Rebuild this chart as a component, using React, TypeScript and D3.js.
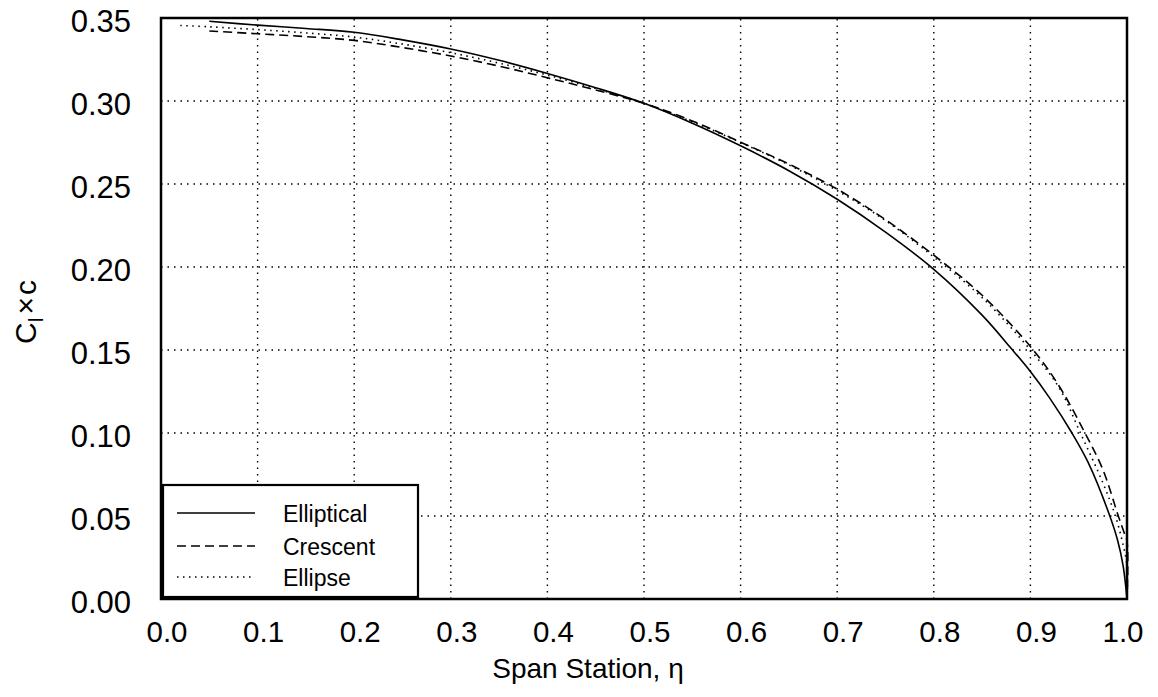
import React from "react";
import * as d3 from "d3";

const xTicks = [0, 0.1, 0.2, 0.3, 0.4, 0.5, 0.6, 0.7, 0.8, 0.9, 1.0];
const yTicks = [0, 0.05, 0.1, 0.15, 0.2, 0.25, 0.3, 0.35];

const ellipticalEta = [0.05, 0.1, 0.15, 0.2, 0.25, 0.3, 0.35, 0.4, 0.45, 0.5, 0.55, 0.6, 0.65, 0.7, 0.75, 0.8, 0.85, 0.88, 0.9, 0.92, 0.943, 0.96, 0.981, 0.99, 0.996, 1.0];
const ellipticalVal = [0.348, 0.3457, 0.3437, 0.3414, 0.3368, 0.3313, 0.3245, 0.3166, 0.308, 0.2986, 0.2866, 0.273, 0.258, 0.2408, 0.221, 0.1986, 0.171, 0.151, 0.137, 0.121, 0.1, 0.082, 0.052, 0.036, 0.02, 0.0];

const crescentEta = [0.05, 0.1, 0.15, 0.2, 0.25, 0.3, 0.35, 0.4, 0.45, 0.5, 0.55, 0.6, 0.65, 0.7, 0.75, 0.8, 0.85, 0.903, 0.93, 0.9565, 0.975, 0.991, 0.997, 1.0, 1.0];
const crescentVal = [0.3422, 0.3405, 0.3388, 0.3365, 0.3322, 0.3271, 0.321, 0.314, 0.3066, 0.2986, 0.288, 0.2752, 0.262, 0.2469, 0.2285, 0.2071, 0.183, 0.15, 0.128, 0.1, 0.078, 0.05, 0.04, 0.035, 0.0];

const ellipseEta = [0.02, 0.05, 0.1, 0.15, 0.2, 0.25, 0.3, 0.35, 0.4, 0.45, 0.5, 0.55, 0.6, 0.65, 0.7, 0.75, 0.8, 0.851, 0.9, 0.93, 0.951, 0.975, 0.988, 0.995, 1.0, 1.0];
const ellipseVal = [0.3455, 0.3447, 0.343, 0.341, 0.3385, 0.3343, 0.3291, 0.3228, 0.3156, 0.3075, 0.2986, 0.2875, 0.275, 0.2615, 0.246, 0.228, 0.206, 0.181, 0.15, 0.127, 0.101, 0.07, 0.05, 0.035, 0.02, 0.0];

const seriesNames = ["Elliptical", "Crescent", "Ellipse"];
const seriesDash = ["", "9,5", "1.5,4.5"];

const W = 1158;
const H = 697;
const left = 161;
const right = 1127;
const top = 18;
const bottom = 599;

export default function App() {
  const x = d3.scaleLinear().domain([0, 1]).range([left, right]);
  const y = d3.scaleLinear().domain([0, 0.35]).range([bottom, top]);
  const line = d3
    .line<[number, number]>()
    .x((d) => x(d[0]))
    .y((d) => y(d[1]))
    .curve(d3.curveCatmullRom.alpha(0.5));

  const series = [
    d3.zip(ellipticalEta, ellipticalVal) as [number, number][],
    d3.zip(crescentEta, crescentVal) as [number, number][],
    d3.zip(ellipseEta, ellipseVal) as [number, number][],
  ];

  const font = "'Liberation Sans', Arial, Helvetica, sans-serif";
  const lg = { x0: 163, y0: 485, x1: 418, y1: 597 };
  const rowY = [513, 546, 577];

  return (
    <svg
      width={W}
      height={H}
      style={{ position: "absolute", left: 0, top: 0, background: "#fff" }}
      fontFamily={font}
    >
      {/* grid */}
      <g stroke="#000" strokeWidth={1.4} strokeDasharray="1.5,5" fill="none">
        {xTicks.slice(1, -1).map((t) => (
          <line key={"gx" + t} x1={x(t)} x2={x(t)} y1={y(0)} y2={y(0.35)} />
        ))}
        {yTicks.slice(1, -1).map((t) => (
          <line key={"gy" + t} x1={x(0)} x2={x(1)} y1={y(t)} y2={y(t)} />
        ))}
      </g>

      {/* curves */}
      {series.map((s, i) => (
        <path
          key={seriesNames[i]}
          d={line(s) || ""}
          fill="none"
          stroke="#000"
          strokeWidth={1.6}
          strokeDasharray={seriesDash[i] || undefined}
        />
      ))}

      {/* frame */}
      <rect
        x={x(0)}
        y={y(0.35)}
        width={x(1) - x(0)}
        height={y(0) - y(0.35)}
        fill="none"
        stroke="#000"
        strokeWidth={2.5}
      />

      {/* legend */}
      <rect
        x={lg.x0}
        y={lg.y0}
        width={lg.x1 - lg.x0}
        height={lg.y1 - lg.y0}
        fill="#fff"
        stroke="#000"
        strokeWidth={2.2}
      />
      {seriesNames.map((n, i) => (
        <g key={"lg" + n}>
          <line
            x1={177}
            x2={255}
            y1={rowY[i]}
            y2={rowY[i]}
            stroke="#000"
            strokeWidth={1.5}
            strokeDasharray={seriesDash[i] || undefined}
          />
          <text x={283} y={rowY[i] + 8.5} fontSize={23} fill="#000">
            {n}
          </text>
        </g>
      ))}

      {/* x tick labels */}
      {xTicks.map((t) => (
        <text
          key={"xl" + t}
          x={Math.min(x(t) + 6, 1123)}
          y={642}
          fontSize={29.5}
          textAnchor="middle"
          fill="#000"
        >
          {d3.format(".1f")(t)}
        </text>
      ))}

      {/* y tick labels */}
      {yTicks.map((t) => (
        <text
          key={"yl" + t}
          x={131}
          y={y(t) + 13.5}
          fontSize={31}
          textAnchor="end"
          fill="#000"
        >
          {d3.format(".2f")(t)}
        </text>
      ))}

      {/* x title */}
      <text x={588} y={678} fontSize={28} textAnchor="middle" fill="#000">
        Span Station, η
      </text>

      {/* y title */}
      <text
        transform={`translate(36,312) rotate(-90)`}
        fontSize={30}
        textAnchor="middle"
        fill="#000"
      >
        C
        <tspan fontSize={21} dy={7}>l</tspan>
        <tspan dy={-7} dx={3}>×</tspan>
        <tspan dx={2}>c</tspan>
      </text>
    </svg>
  );
}
